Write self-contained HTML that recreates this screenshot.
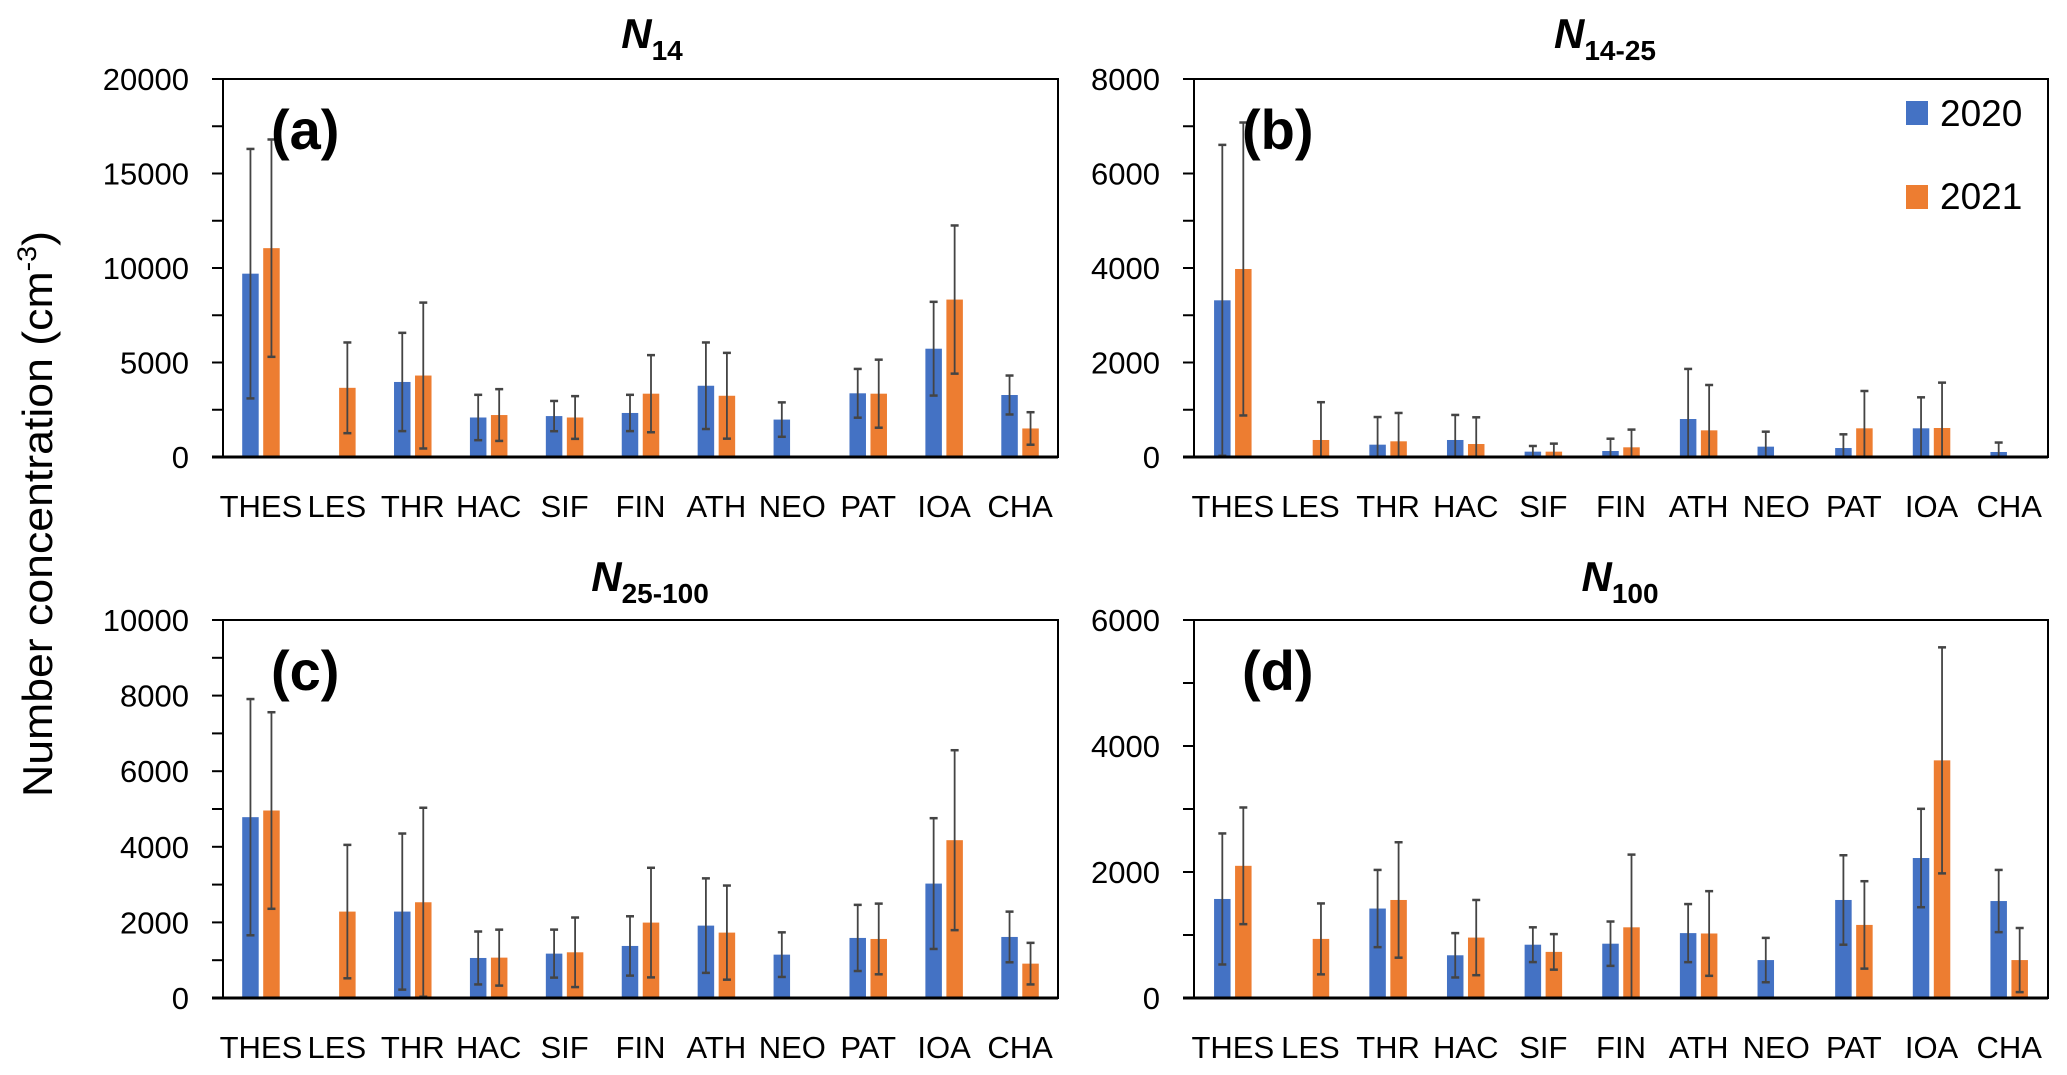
<!DOCTYPE html>
<html><head><meta charset="utf-8">
<style>
html,body{margin:0;padding:0;background:#fff;}
svg{display:block;font-family:"Liberation Sans",sans-serif;}
</style></head>
<body>
<svg id="fig" width="2067" height="1075" viewBox="0 0 2067 1075" xmlns="http://www.w3.org/2000/svg">
<text transform="translate(52,514) rotate(-90)" text-anchor="middle" font-size="42" textLength="566" lengthAdjust="spacingAndGlyphs">Number concentration (cm<tspan font-size="27" dy="-16">-3</tspan><tspan dy="16">)</tspan></text>
<g>
<rect x="1906" y="101" width="22" height="24" fill="#4472C4"/>
<text x="1940" y="126" font-size="37">2020</text>
<rect x="1906" y="185" width="22" height="24" fill="#ED7D31"/>
<text x="1940" y="209" font-size="37">2021</text>
</g>
</svg>
<script>
const categories = ["THES","LES","THR","HAC","SIF","FIN","ATH","NEO","PAT","IOA","CHA"];
// Panel (a) N14
const aVals2020 = [9700,0,3970,2090,2165,2330,3770,1980,3370,5730,3280];
const aErr2020  = [6600,0,2600,1200,800,960,2290,910,1290,2480,1030];
const aVals2021 = [11050,3660,4310,2220,2090,3350,3240,0,3350,8330,1510];
const aErr2021  = [5750,2400,3860,1370,1130,2040,2270,0,1800,3920,860];
const aTicks = [0,5000,10000,15000,20000];
// Panel (b) N14-25
const bVals2020 = [3316,0,261,360,113,127,804,219,190,607,106];
const bErr2020  = [3290,0,585,530,120,260,1060,317,290,656,200];
const bVals2021 = [3979,360,332,275,113,205,564,0,607,614,28];
const bErr2021  = [3100,800,600,565,170,375,960,0,790,960,0];
const bTicks = [0,2000,4000,6000,8000];
// Panel (c) N25-100
const cVals2020 = [4784,0,2286,1059,1174,1377,1915,1147,1589,3027,1615];
const cErr2020  = [3125,0,2065,700,635,785,1250,590,875,1730,670];
const cVals2021 = [4960,2286,2533,1068,1209,1995,1730,0,1562,4175,909];
const cErr2021  = [2600,1765,2500,740,920,1450,1245,0,935,2380,550];
const cTicks = [0,2000,4000,6000,8000,10000];
// Panel (d) N100
const dVals2020 = [1572,0,1420,678,846,862,1030,602,1556,2222,1539];
const dErr2020  = [1040,0,613,352,276,352,461,352,710,781,494];
const dVals2021 = [2098,938,1556,959,732,1122,1024,0,1160,3772,602];
const dErr2021  = [926,563,916,597,282,1154,672,0,694,1794,509];
const dTicks = [0,2000,4000,6000];

const NS="http://www.w3.org/2000/svg";
const svg=document.getElementById('fig');
function mk(tag,attrs,parent){const e=document.createElementNS(NS,tag);for(const k in attrs)e.setAttribute(k,attrs[k]);(parent||svg).appendChild(e);return e;}

function panel(id,letter,x0,x1,y0,y1,ymax,minorStep,ticks,v20,e20,v21,e21,title,sub,titleX,titleY){
  const g=mk('g',{});
  
  
  const ys=v=>y1-(v/ymax)*(y1-y0);
  const bw=(x1-x0)/categories.length;
  const xs=i=>x0+bw*(i+0.5);
  for(let v=0;v<=ymax+1e-6;v+=minorStep){
    const t=mk('line',{x1:x0-11,x2:x0,y1:ys(v),y2:ys(v),stroke:'#000','stroke-width':2},g);
    
    
  }
  ticks.forEach(v=>{
    const t=mk('text',{x:x0-34,y:ys(v)+11,'text-anchor':'end','font-size':31},g);
    
    
    t.textContent=v;
  });
  const bwid=16.5;
  categories.forEach((c,i)=>{
    [[v20,e20,-10.5,'#4472C4','2020'],[v21,e21,10.5,'#ED7D31','2021']].forEach(([vals,errs,off,col,yr])=>{
      const v=vals[i]; if(v<=0) return;
      const cx=xs(i)+off;
      const r=mk('rect',{x:cx-bwid/2,y:ys(v),width:bwid,height:y1-ys(v),fill:col},g);
      
      
      const e=errs[i];
      if(e>0){
        const lo=Math.max(0,v-e),hi=v+e;
        const eg=mk('g',{stroke:'#444','stroke-width':1.8},g);
        
        
        mk('line',{x1:cx,x2:cx,y1:ys(lo),y2:ys(hi)},eg);
        mk('line',{x1:cx-4,x2:cx+4,y1:ys(hi),y2:ys(hi),'stroke-width':2.5},eg);
        if(v-e>0) mk('line',{x1:cx-4,x2:cx+4,y1:ys(lo),y2:ys(lo),'stroke-width':2.5},eg);
      }
    });
    const t=mk('text',{x:xs(i),y:y1+60,'text-anchor':'middle','font-size':31},g);
    
    
    t.textContent=c;
  });
  const fr=mk('rect',{x:x0,y:y0,width:x1-x0,height:y1-y0,fill:'none',stroke:'#000','stroke-width':2},g);
  
  
  const ax=mk('line',{x1:x0-11,x2:x1,y1:y1,y2:y1,stroke:'#000','stroke-width':3},g);
  
  
  const lb=mk('text',{x:x0+48,y:y0+70,'font-size':56,'font-weight':'bold'},g);
  
  
  lb.textContent='('+letter+')';
  const tt=mk('text',{x:titleX,y:titleY,'text-anchor':'middle','font-size':42,'font-weight':'bold'},g);
  
  
  const n=mk('tspan',{'font-style':'italic'},tt); n.textContent='N';
  const s=mk('tspan',{'font-size':28,dy:12},tt); s.textContent=sub;
}
panel('a','a',223,1058,79,457,20000,2500,aTicks,aVals2020,aErr2020,aVals2021,aErr2021,'N','14',652,48);
panel('b','b',1194,2048,79,457,8000,1000,bTicks,bVals2020,bErr2020,bVals2021,bErr2021,'N','14-25',1605,48);
panel('c','c',223,1058,620,998,10000,1000,cTicks,cVals2020,cErr2020,cVals2021,cErr2021,'N','25-100',650,591);
panel('d','d',1194,2048,620,998,6000,1000,dTicks,dVals2020,dErr2020,dVals2021,dErr2021,'N','100',1620,591);
</script>
</body></html>
